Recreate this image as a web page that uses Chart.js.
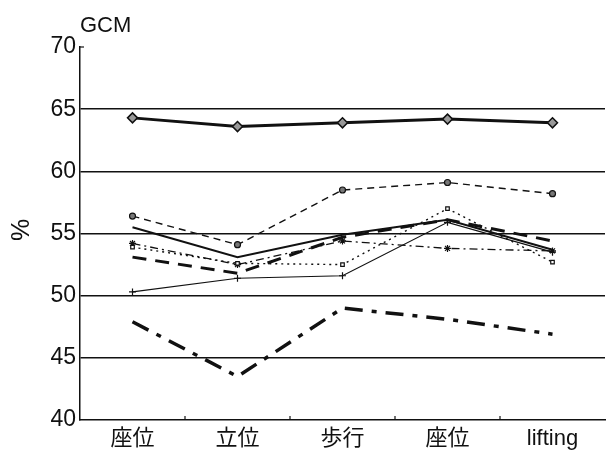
<!DOCTYPE html>
<html><head><meta charset="utf-8">
<script src="https://cdn.jsdelivr.net/npm/chart.js@4.4.1/dist/chart.umd.min.js"></script>
<style>html,body{margin:0;padding:0;background:#fff;}#wrap{width:615px;height:468px;}</style>
</head><body><div id="wrap"><canvas id="c" width="615" height="468"></canvas></div>
<script>
const categories = ['座位', '立位', '歩行', '座位', 'lifting'];
const yTicks = [40, 45, 50, 55, 60, 65, 70];
const s1 = [64.3, 63.6, 63.9, 64.2, 63.9];
const s2 = [56.4, 54.1, 58.5, 59.1, 58.2];
const s3 = [55.5, 53.1, 54.9, 56.1, 53.7];
const s4 = [53.1, 51.8, 54.7, 56.1, 54.4];
const s5 = [53.9, 52.6, 52.5, 57.0, 52.7];
const s6 = [54.2, 52.5, 54.4, 53.8, 53.6];
const s7 = [50.3, 51.4, 51.6, 55.9, 53.5];
const s8 = [47.9, 43.5, 49.0, 48.1, 46.9];

const FONT = '"Liberation Sans", "Noto Sans CJK JP", Arial, sans-serif';

const extras = {
  id: 'extras',
  afterDraw(chart) {
    const ctx = chart.ctx;
    const x = chart.scales.x, y = chart.scales.y;
    ctx.save();
    ctx.strokeStyle = '#111';
    ctx.lineWidth = 1.2;
    for (let i = 1; i < categories.length; i++) {
      const px = (x.getPixelForValue(i - 1) + x.getPixelForValue(i)) / 2;
      ctx.beginPath();
      ctx.moveTo(px, y.bottom);
      ctx.lineTo(px, y.bottom - 4);
      ctx.stroke();
    }
    const p70 = y.getPixelForValue(70);
    ctx.beginPath();
    ctx.moveTo(x.left, p70);
    ctx.lineTo(x.left + 4, p70);
    ctx.stroke();
    ctx.fillStyle = '#111';
    ctx.font = '22px ' + FONT;
    ctx.textAlign = 'left';
    ctx.textBaseline = 'alphabetic';
    ctx.fillText('GCM', 80, 32);
    ctx.font = '25px ' + FONT;
    ctx.translate(22, 230);
    ctx.rotate(-Math.PI / 2);
    ctx.textAlign = 'center';
    ctx.textBaseline = 'middle';
    ctx.fillText('%', 0, 0);
    ctx.restore();
  }
};

function ds(data, opts) {
  return Object.assign({
    data: data,
    borderColor: '#111',
    backgroundColor: '#111',
    pointBorderColor: '#111',
    pointBackgroundColor: '#fff',
    pointRadius: 0,
    pointBorderWidth: 1.2,
    fill: false,
    tension: 0,
  }, opts);
}

new Chart(document.getElementById('c'), {
  type: 'line',
  data: {
    labels: categories,
    datasets: [
      ds(s1, { borderWidth: 3, pointStyle: 'rectRot', pointRadius: 5, pointBackgroundColor: '#999', pointBorderWidth: 1.5 }),
      ds(s2, { borderWidth: 1.4, borderDash: [7, 5], pointStyle: 'circle', pointRadius: 3, pointBackgroundColor: '#777' }),
      ds(s3, { borderWidth: 2 }),
      ds(s4, { borderWidth: 3, borderDash: [14, 9] }),
      ds(s5, { borderWidth: 1.4, borderDash: [2, 4], pointStyle: 'rect', pointRadius: 2.5 }),
      ds(s6, { borderWidth: 1.3, borderDash: [8, 4, 2, 4], pointStyle: 'star', pointRadius: 3.5 }),
      ds(s7, { borderWidth: 1.2, pointStyle: 'cross', pointRadius: 3.5 }),
      ds(s8, { borderWidth: 3.5, borderDash: [18, 9, 5, 9] }),
    ]
  },
  options: {
    responsive: false,
    animation: false,
    layout: { padding: { top: 47, right: 10, left: 0, bottom: 0 } },
    plugins: { legend: { display: false }, tooltip: { enabled: false } },
    scales: {
      x: {
        type: 'category',
        offset: true,
        afterFit(s) { s.height = 48; },
        grid: { display: true, drawOnChartArea: false, drawTicks: false },
        border: { display: true, color: '#111', width: 1.5 },
        ticks: { color: '#111', font: { family: FONT, size: 22 }, padding: 6, maxRotation: 0, autoSkip: false }
      },
      y: {
        min: 40, max: 70,
        afterFit(s) { s.width = 80; },
        afterBuildTicks(s) { s.ticks = yTicks.map(v => ({ value: v })); },
        grid: {
          drawTicks: false,
          color: (c) => (c.tick && (c.tick.value === 70 || c.tick.value === 40)) ? 'rgba(0,0,0,0)' : '#111',
          lineWidth: 1.5
        },
        border: { display: true, color: '#111', width: 1.5 },
        ticks: { color: '#111', font: { family: FONT, size: 23 }, padding: 4 }
      }
    }
  },
  plugins: [extras]
});
</script></body></html>
